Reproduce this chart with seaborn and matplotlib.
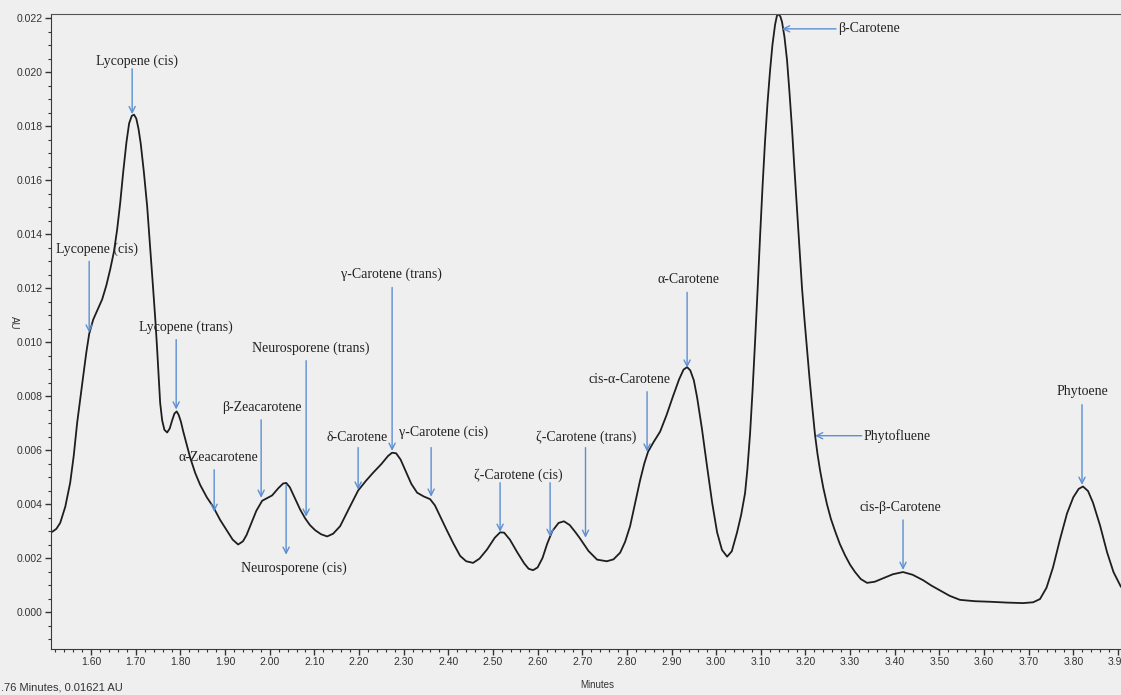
import numpy as np
import pandas as pd
import matplotlib
matplotlib.use("Agg")
import matplotlib.pyplot as plt
import matplotlib.ticker as mticker
import seaborn as sns

# chromatogram trace (minutes, AU)
minutes = [1.5127, 1.5220, 1.5306, 1.5420, 1.5530, 1.5610, 1.5686, 1.5755, 1.5820, 1.5890,
           1.5955, 1.6045, 1.6140, 1.6246, 1.6340, 1.6426, 1.6510, 1.6582, 1.6650, 1.6717,
           1.6790, 1.6850, 1.6910, 1.6960, 1.7010, 1.7060, 1.7110, 1.7180, 1.7254, 1.7320,
           1.7389, 1.7440, 1.7478, 1.7515, 1.7545, 1.7590, 1.7640, 1.7702, 1.7760, 1.7814,
           1.7865, 1.7915, 1.7960, 1.8010, 1.8060, 1.8140, 1.8217, 1.8330, 1.8441, 1.8590,
           1.8732, 1.8889, 1.9046, 1.9170, 1.9292, 1.9400, 1.9480, 1.9561, 1.9700, 1.9830,
           1.9940, 2.0054, 2.0200, 2.0300, 2.0370, 2.0450, 2.0569, 2.0680, 2.0793, 2.0900,
           2.1017, 2.1150, 2.1286, 2.1420, 2.1577, 2.1780, 2.1980, 2.2150, 2.2316, 2.2500,
           2.2650, 2.2740, 2.2830, 2.2930, 2.3050, 2.3170, 2.3301, 2.3450, 2.3592, 2.3700,
           2.3816, 2.3960, 2.4107, 2.4264, 2.4400, 2.4555, 2.4700, 2.4869, 2.5040, 2.5160,
           2.5250, 2.5380, 2.5541, 2.5700, 2.5800, 2.5899, 2.6000, 2.6110, 2.6213, 2.6330,
           2.6470, 2.6590, 2.6720, 2.6850, 2.6952, 2.7140, 2.7333, 2.7550, 2.7700, 2.7850,
           2.7960, 2.8072, 2.8180, 2.8296, 2.8390, 2.8475, 2.8600, 2.8744, 2.8890, 2.9035,
           2.9170, 2.9270, 2.9349, 2.9420, 2.9500, 2.9573, 2.9680, 2.9797, 2.9910, 3.0021,
           3.0130, 3.0245, 3.0350, 3.0468, 3.0560, 3.0647, 3.0700, 3.0759, 3.0815, 3.0871,
           3.0930, 3.0983, 3.1040, 3.1095, 3.1150, 3.1207, 3.1260, 3.1319, 3.1360, 3.1400,
           3.1440, 3.1476, 3.1530, 3.1587, 3.1640, 3.1699, 3.1750, 3.1811, 3.1870, 3.1923,
           3.1980, 3.2035, 3.2090, 3.2147, 3.2215, 3.2270, 3.2327, 3.2400, 3.2484, 3.2570,
           3.2663, 3.2770, 3.2887, 3.3000, 3.3111, 3.3240, 3.3380, 3.3550, 3.3738, 3.3960,
           3.4186, 3.4400, 3.4634, 3.4820, 3.5015, 3.5230, 3.5462, 3.5800, 3.6134, 3.6500,
           3.6873, 3.7100, 3.7254, 3.7400, 3.7545, 3.7700, 3.7859, 3.8000, 3.8120, 3.8217,
           3.8330, 3.8441, 3.8600, 3.8755, 3.8900, 3.9068]
au = [0.00297, 0.00308, 0.00330, 0.00390, 0.00479, 0.00580, 0.00701, 0.00790, 0.00872, 0.00960,
      0.01030, 0.01083, 0.01118, 0.01158, 0.01210, 0.01269, 0.01335, 0.01417, 0.01515, 0.01629,
      0.01740, 0.01810, 0.01838, 0.01842, 0.01828, 0.01790, 0.01735, 0.01630, 0.01503, 0.01355,
      0.01195, 0.01075, 0.00972, 0.00860, 0.00775, 0.00710, 0.00675, 0.00665, 0.00680, 0.00710,
      0.00735, 0.00743, 0.00730, 0.00705, 0.00670, 0.00620, 0.00572, 0.00515, 0.00471, 0.00425,
      0.00390, 0.00341, 0.00300, 0.00268, 0.00250, 0.00262, 0.00285, 0.00318, 0.00375, 0.00412,
      0.00422, 0.00432, 0.00460, 0.00476, 0.00478, 0.00462, 0.00420, 0.00380, 0.00347, 0.00322,
      0.00303, 0.00288, 0.00280, 0.00290, 0.00318, 0.00385, 0.00450, 0.00485, 0.00516, 0.00548,
      0.00578, 0.00590, 0.00588, 0.00565, 0.00520, 0.00475, 0.00442, 0.00428, 0.00418, 0.00395,
      0.00355, 0.00305, 0.00256, 0.00208, 0.00188, 0.00182, 0.00198, 0.00232, 0.00275, 0.00295,
      0.00294, 0.00268, 0.00222, 0.00180, 0.00160, 0.00155, 0.00165, 0.00200, 0.00252, 0.00300,
      0.00330, 0.00336, 0.00322, 0.00295, 0.00272, 0.00226, 0.00194, 0.00188, 0.00195, 0.00220,
      0.00260, 0.00318, 0.00400, 0.00488, 0.00550, 0.00594, 0.00630, 0.00668, 0.00730, 0.00800,
      0.00862, 0.00898, 0.00907, 0.00895, 0.00858, 0.00795, 0.00680, 0.00538, 0.00405, 0.00295,
      0.00230, 0.00205, 0.00225, 0.00295, 0.00360, 0.00440, 0.00530, 0.00660, 0.00820, 0.01000,
      0.01200, 0.01390, 0.01580, 0.01745, 0.01885, 0.02005, 0.02100, 0.02175, 0.02208, 0.02215,
      0.02205, 0.02185, 0.02130, 0.02045, 0.01930, 0.01790, 0.01650, 0.01492, 0.01340, 0.01200,
      0.01080, 0.00972, 0.00868, 0.00768, 0.00655, 0.00585, 0.00525, 0.00460, 0.00398, 0.00345,
      0.00300, 0.00252, 0.00210, 0.00175, 0.00148, 0.00122, 0.00108, 0.00112, 0.00125, 0.00140,
      0.00148, 0.00138, 0.00118, 0.00098, 0.00080, 0.00060, 0.00045, 0.00040, 0.00038, 0.00035,
      0.00033, 0.00036, 0.00048, 0.00090, 0.00165, 0.00268, 0.00365, 0.00425, 0.00456, 0.00465,
      0.00448, 0.00405, 0.00320, 0.00222, 0.00148, 0.00093]

# peak labels: text, text position, arrow tail and tip
labels = ["Lycopene (cis)", "Lycopene (cis)", "Lycopene (trans)", "α-Zeacarotene",
          "β-Zeacarotene", "Neurosporene (trans)", "Neurosporene (cis)", "δ-Carotene",
          "γ-Carotene (trans)", "γ-Carotene (cis)", "ζ-Carotene (cis)", "ζ-Carotene (trans)",
          "cis-α-Carotene", "α-Carotene", "cis-β-Carotene", "Phytoene"]
label_x = [1.7030, 1.6134, 1.8128, 1.8844, 1.9830, 2.0927, 2.0546, 2.1957,
           2.2719, 2.3883, 2.5563, 2.7095, 2.8050, 2.9371, 3.4119, 3.8195]
label_y = [0.02040, 0.01343, 0.01054, 0.00571, 0.00757, 0.00976, 0.00163, 0.00646,
           0.01250, 0.00664, 0.00508, 0.00646, 0.00861, 0.01232, 0.00386, 0.00816]
arrow_x = [1.6918, 1.5955, 1.7904, 1.8755, 1.9807, 2.0815, 2.0367, 2.1980,
           2.2741, 2.3615, 2.5160, 2.7073, 2.8452, 2.9349, 3.4186, 3.8195]
arrow_tail = [0.02012, 0.01299, 0.01009, 0.00527, 0.00712, 0.00931, 0.00471, 0.00609,
              0.01202, 0.00609, 0.00479, 0.00609, 0.00816, 0.01184, 0.00341, 0.00768]
arrow_tip = [0.01844, 0.01035, 0.00750, 0.00371, 0.00423, 0.00353, 0.00212, 0.00453,
             0.00597, 0.00427, 0.00297, 0.00275, 0.00594, 0.00905, 0.00156, 0.00471]
# second arrow from the zeta-carotene (cis) label
extra_arrow = (2.6280, 0.00479, 0.00278)
# horizontal labels on the right of the big peak
side_labels = ["β-Carotene", "Phytofluene"]
side_text_x = [3.2730, 3.3300]
side_y = [0.02160, 0.00653]
side_tail_x = [3.2685, 3.3260]
side_tip_x = [3.1476, 3.2215]

bg = "#efefef"
blue = "#5b8fd3"
sns.set_style("ticks", {"axes.facecolor": bg, "figure.facecolor": bg,
                        "axes.edgecolor": "#3a3a3a"})
plt.rcParams["font.family"] = ["Liberation Sans Narrow", "Liberation Sans", "DejaVu Sans"]

df = pd.DataFrame({"Minutes": minutes, "AU": au})

fig = plt.figure(figsize=(11.21, 6.95), dpi=100)
ax = fig.add_axes([51 / 1121, 46 / 695, (1140 - 51) / 1121, (649 - 14) / 695])
sns.lineplot(data=df, x="Minutes", y="AU", ax=ax, color="#1e1e1e", linewidth=1.3)

ax.set_xlim(1.510, 3.9494)
ax.set_ylim(-0.00137, 0.02215)
ax.xaxis.set_major_locator(mticker.MultipleLocator(0.1))
ax.xaxis.set_minor_locator(mticker.MultipleLocator(0.02))
ax.xaxis.set_major_formatter(mticker.FormatStrFormatter("%.2f"))
ax.yaxis.set_major_locator(mticker.MultipleLocator(0.002))
ax.yaxis.set_minor_locator(mticker.MultipleLocator(0.0005))
ax.yaxis.set_major_formatter(mticker.FormatStrFormatter("%.3f"))
ax.tick_params(which="major", length=4, width=1, labelsize=7.5, colors="#333333", pad=2)
ax.tick_params(which="minor", length=2, width=0.8, colors="#333333")
ax.spines["top"].set_color("#555555")
ax.spines["right"].set_visible(False)
ax.set_xlabel("")
ax.set_ylabel("")

serif = ["Liberation Serif", "DejaVu Serif"]
arrow_kw = dict(arrowstyle="->", color=blue, lw=1.0, mutation_scale=11,
                shrinkA=0, shrinkB=0)

for name, tx, ty, axx, a0, a1 in zip(labels, label_x, label_y, arrow_x, arrow_tail, arrow_tip):
    ax.text(tx, ty, name, ha="center", va="center", fontsize=10, family=serif, color="#222222")
    ax.annotate("", xy=(axx, a1), xytext=(axx, a0), arrowprops=arrow_kw)

ex, e0, e1 = extra_arrow
ax.annotate("", xy=(ex, e1), xytext=(ex, e0), arrowprops=arrow_kw)

for name, tx, y, t0, t1 in zip(side_labels, side_text_x, side_y, side_tail_x, side_tip_x):
    ax.text(tx, y, name, ha="left", va="center", fontsize=10, family=serif, color="#222222")
    ax.annotate("", xy=(t1, y), xytext=(t0, y), arrowprops=arrow_kw)

fig.text(14 / 1121, 1 - 323 / 695, "AU", rotation=270, ha="center", va="center",
         fontsize=7, color="#333333")
fig.text(597 / 1121, 1 - 685 / 695, "Minutes", ha="center", va="center",
         fontsize=7, color="#333333")
fig.text(0.001, 1 - 688 / 695, ".76 Minutes, 0.01621 AU", ha="left", va="center",
         fontsize=8, color="#333333")

fig.savefig("out.png", dpi=100, facecolor=bg)
